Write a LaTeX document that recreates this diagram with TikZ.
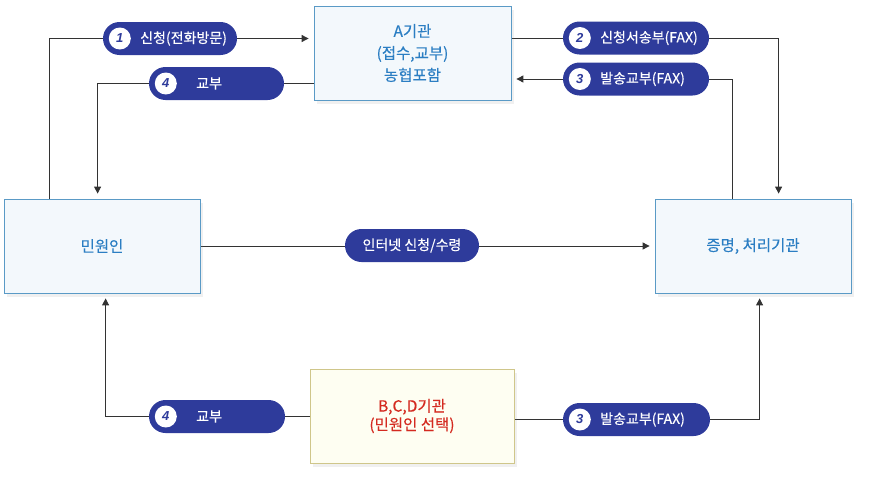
\documentclass[tikz,border=0pt]{standalone}
\usepackage{fontspec}
\setmainfont{Noto Sans CJK KR}[FakeBold=0.3]
\newfontfamily\numfont{Liberation Sans}
\usetikzlibrary{positioning,shadows,arrows.meta,backgrounds}
\definecolor{navy}{HTML}{2E3B9B}
\definecolor{boxline}{HTML}{5A9AC6}
\definecolor{boxfill}{HTML}{F3F8FC}
\definecolor{boxtext}{HTML}{2B7EC3}
\definecolor{ylwline}{HTML}{CFC68A}
\definecolor{ylwfill}{HTML}{FEFEF2}
\definecolor{redtext}{HTML}{D42A20}
\definecolor{linkgray}{HTML}{333333}
\begin{document}
\begin{tikzpicture}[x=1pt,y=-1pt,>={Triangle[length=7pt,width=7pt]},
	box/.style={draw=boxline,fill=boxfill,line width=0.8pt,minimum width=196pt,minimum height=94pt,text=boxtext,align=center,font=\fontsize{15.5}{22}\selectfont,drop shadow={opacity=0.12,shadow xshift=3pt,shadow yshift=-4pt}},
	pill/.style={fill=navy,rounded corners=16.5pt,minimum height=33pt,inner sep=0},
	num/.style={circle,fill=white,text=navy,minimum size=22pt,inner sep=0,font=\numfont\bfseries\itshape\fontsize{13}{13}\selectfont},
	lbl/.style={text=white,anchor=west,inner sep=0,font=\fontsize{14}{14}\selectfont},
	link/.style={draw=linkgray,line width=0.9pt,shorten >=5pt}]
\useasboundingbox (0,0) rectangle (871,482);
% boxes
\node[box,minimum width=197pt](agency) at (412.5,53) {A기관\\(접수,교부)\\농협포함};
\node[box](citizen) at (102,246) {민원인};
\node[box](office) at (753,246) {증명, 처리기관};
\node[box,draw=ylwline,fill=ylwfill,text=redtext,minimum width=204pt,font=\fontsize{15.5}{18.5}\selectfont](bcd) at (412,416) {B,C,D기관\\(민원인 선택)};
% pills
\node[pill,minimum width=134pt](p1) at (170,38.5) {};
\node[pill,minimum width=135pt](p4a) at (216.5,83.5) {};
\node[pill,minimum width=146pt](p2) at (636,38) {};
\node[pill,minimum width=146pt](p3a) at (636,79) {};
\node[pill,minimum width=134pt](pnet) at (412,245.5) {};
\node[pill,minimum width=136pt](p4b) at (217,416.5) {};
\node[pill,minimum width=147pt](p3b) at (636.5,419.5) {};
\node[num](n1) at ([xshift=17pt]p1.west) {1};
\node[num](n4a) at ([xshift=17pt]p4a.west) {4};
\node[num](n2) at ([xshift=17pt]p2.west) {2};
\node[num](n3a) at ([xshift=17pt]p3a.west) {3};
\node[num](n4b) at ([xshift=17pt]p4b.west) {4};
\node[num](n3b) at ([xshift=17pt]p3b.west) {3};
\node[lbl](t1) at (140,38.5) {신청(전화방문)};
\node[lbl](t4a) at (196,83.5) {교부};
\node[lbl](t2) at (600,38) {신청서송부(FAX)};
\node[lbl](t3a) at (600,79) {발송교부(FAX)};
\node[lbl,anchor=center](tnet) at (pnet) {인터넷 신청/수령};
\node[lbl](t4b) at (196,416.5) {교부};
\node[lbl](t3b) at (600,419.5) {발송교부(FAX)};
% connectors
\begin{scope}[on background layer]
	\draw[link,->] ([xshift=46pt]citizen.north west) |- (agency.west |- p1);
	\draw[link,->] (agency.west |- p4a) -| ([xshift=94pt]citizen.north west);
	\draw[link,->] (agency.east |- p2) -| ([xshift=124pt]office.north west);
	\draw[link,->] ([xshift=78pt]office.north west) |- (agency.east |- p3a);
	\draw[link,->] (citizen.east) -- (office.west);
	\draw[link,->] (bcd.west |- p4b) -| ([xshift=102pt]citizen.south west);
	\draw[link,->] (bcd.east |- p3b) -| ([xshift=105pt]office.south west);
\end{scope}
\end{tikzpicture}
\end{document}
